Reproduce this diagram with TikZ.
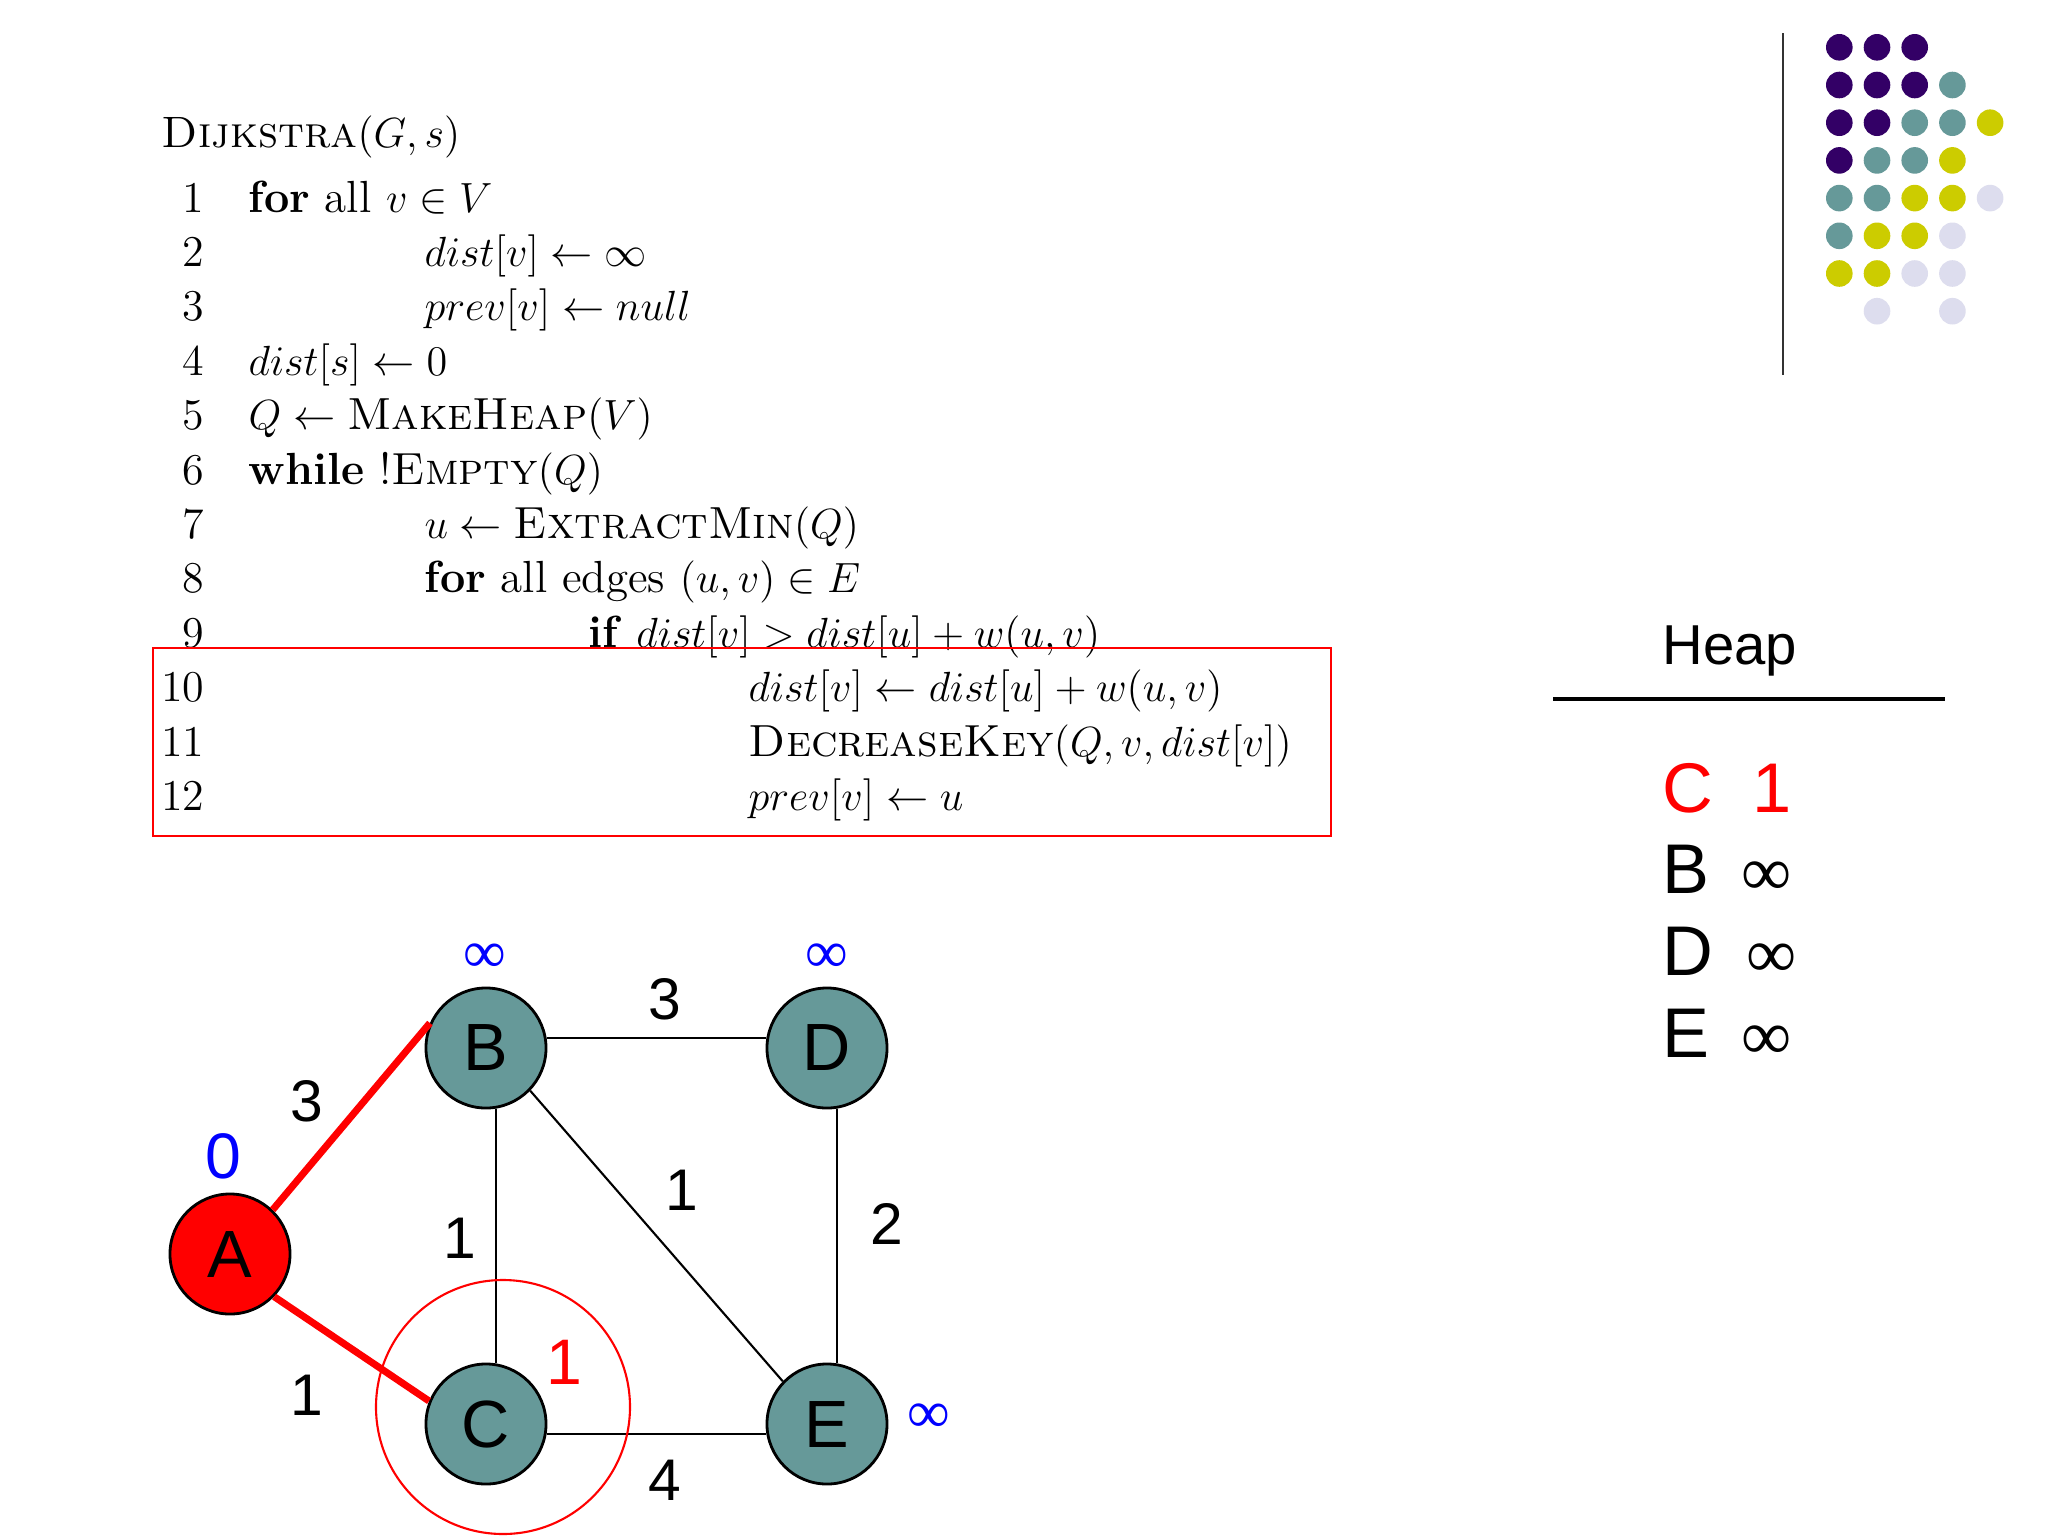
\documentclass[tikz,border=0pt]{standalone}
\usepackage{amsmath, amssymb}
\usepackage{fontspec}
\newfontfamily\arial{Liberation Sans}
\newfontfamily\timesf{Liberation Serif}
\usepackage{tikz}
\usetikzlibrary{positioning}

\definecolor{dotpurple}{HTML}{330066}
\definecolor{dotteal}{HTML}{669999}
\definecolor{dotyellow}{HTML}{CCCC00}
\definecolor{dotlilac}{HTML}{DDDDEE}

\begin{document}
\begin{tikzpicture}[x=0.01cm, y=-0.01cm,
    code/.style={anchor=base west, inner sep=0pt, font=\fontsize{12.8}{14}\selectfont},
    lnum/.style={anchor=base east, inner sep=0pt, font=\fontsize{12.5}{14}\selectfont},
    vtx/.style={circle, draw, line width=0.8pt, fill=dotteal, minimum size=1.2cm, inner sep=0pt, font=\arial\fontsize{19}{19}\selectfont},
    wgt/.style={inner sep=0pt, font=\arial\fontsize{16.7}{16.7}\selectfont},
    dst/.style={inner sep=0pt, font=\arial\fontsize{18.3}{18.3}\selectfont},
    inf/.style={inner sep=0pt, text=blue, font=\timesf\fontsize{17}{17}\selectfont},
    heapitem/.style={anchor=base west, inner sep=0pt, font=\arial\fontsize{20}{20}\selectfont},
    edge/.style={line width=0.6pt},
    tree/.style={red, line width=2pt}]
    \useasboundingbox[fill=white] (0,0) rectangle (2048,1536);

    % logo dots
    \draw[black!80, line width=0.6pt] (1783,33) -- (1783,375);
    \foreach \c/\r/\col in {0/0/dotpurple, 1/0/dotpurple, 2/0/dotpurple,
        0/1/dotpurple, 1/1/dotpurple, 2/1/dotpurple, 3/1/dotteal,
        0/2/dotpurple, 1/2/dotpurple, 2/2/dotteal, 3/2/dotteal, 4/2/dotyellow,
        0/3/dotpurple, 1/3/dotteal, 2/3/dotteal, 3/3/dotyellow,
        0/4/dotteal, 1/4/dotteal, 2/4/dotyellow, 3/4/dotyellow, 4/4/dotlilac,
        0/5/dotteal, 1/5/dotyellow, 2/5/dotyellow, 3/5/dotlilac,
        0/6/dotyellow, 1/6/dotyellow, 2/6/dotlilac, 3/6/dotlilac,
        1/7/dotlilac, 3/7/dotlilac}
        \fill[\col] ({1839.3+37.7*\c}, {47.3+37.7*\r}) circle[radius=13.3];

    % pseudocode
    \node[code, font=\fontsize{12.5}{14}\selectfont] (title) at (161,147) {\textsc{Dijkstra}$(G,s)$};
    \foreach \i in {1,...,12}
        \node[lnum] (n\i) at (205, {212+54.4*(\i-1)}) {\i};
    \node[code] (c1) at (248,212) {\textbf{for} all $v \in V$};
    \node[code] (c2) at (424,266.4) {$dist[v] \leftarrow \infty$};
    \node[code] (c3) at (424,320.8) {$prev[v] \leftarrow null$};
    \node[code] (c4) at (248,375.2) {$dist[s] \leftarrow 0$};
    \node[code] (c5) at (248,429.6) {$Q \leftarrow \textsc{MakeHeap}(V)$};
    \node[code] (c6) at (248,484) {\textbf{while} !\textsc{Empty}$(Q)$};
    \node[code] (c7) at (424,538.4) {$u \leftarrow \textsc{ExtractMin}(Q)$};
    \node[code] (c8) at (424,592.8) {\textbf{for} all edges $(u,v) \in E$};
    \node[code] (c9) at (588,647.2) {\textbf{if} $dist[v] > dist[u] + w(u,v)$};
    \node[code] (c10) at (748,701.6) {$dist[v] \leftarrow dist[u] + w(u,v)$};
    \node[code] (c11) at (748,756) {\textsc{DecreaseKey}$(Q,v,dist[v])$};
    \node[code] (c12) at (748,810.4) {$prev[v] \leftarrow u$};
    \draw[red, line width=0.7pt] (153,648) rectangle (1331,836);

    % heap
    \node[anchor=base west, inner sep=0pt, font=\arial\fontsize{16}{16}\selectfont] (heap) at (1662,664) {Heap};
    \coordinate (hl1) at (1553,699);
    \coordinate (hl2) at (1945,699);
    \draw[line width=1.1pt] (hl1) -- (hl2);
    \node[heapitem, text=red] (hC) at (1662,812) {C};
    \node[heapitem, text=red] (hCv) at (1752,812) {1};
    \node[heapitem] (hB) at (1662,893) {B};
    \node[heapitem, anchor=base, font=\timesf\fontsize{20}{20}\selectfont] (hBv) at (1767,895) {∞};
    \node[heapitem] (hD) at (1662,975) {D};
    \node[heapitem, anchor=base, font=\timesf\fontsize{20}{20}\selectfont] (hDv) at (1772,977) {∞};
    \node[heapitem] (hE) at (1662,1057) {E};
    \node[heapitem, anchor=base, font=\timesf\fontsize{20}{20}\selectfont] (hEv) at (1767,1059) {∞};

    % graph
    \node[vtx, fill=red] (A) at (230,1254) {A};
    \node[vtx] (B) at (486,1048) {B};
    \node[vtx] (C) at (486,1424) {C};
    \node[vtx] (D) at (827,1048) {D};
    \node[vtx] (E) at (827,1424) {E};
    \draw[tree] (A.46) -- (B.156);
    \draw[tree] (A.-44) -- (C.158);
    \draw[edge] (B.9) -- (D.171);
    \draw[edge] (B.-81) -- (C.81);
    \draw[edge] (B.-44) -- (E.136);
    \draw[edge] (D.-81) -- (E.81);
    \draw[edge] (C.-9) -- (E.189);
    \draw[red, line width=0.6pt] (503,1407) circle[radius=127];

    \node[wgt] (wAB) at (307,1101) {3};
    \node[wgt] (wAC) at (307,1395) {1};
    \node[wgt] (wBC) at (460,1238) {1};
    \node[wgt] (wBD) at (665,999) {3};
    \node[wgt] (wBE) at (682,1190) {1};
    \node[wgt] (wDE) at (887,1224) {2};
    \node[wgt] (wCE) at (665,1480) {4};

    \node[dst, text=blue] (dA) at (223,1156) {0};
    \node[dst, text=red] (dC) at (564,1362) {1};
    \node[inf] (dB) at (485,958) {∞};
    \node[inf] (dD) at (827,958) {∞};
    \node[inf] (dE) at (929,1418) {∞};
\end{tikzpicture}
\end{document}
